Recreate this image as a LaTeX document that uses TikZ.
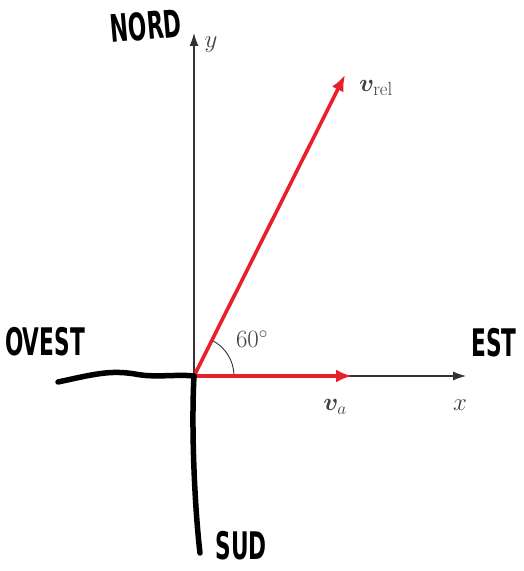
\documentclass[tikz,border=0pt]{standalone}
\usepackage{amsmath,amssymb,bm}
\usepackage{fontspec}
\newfontfamily\handfont{DejaVu Sans}
\usetikzlibrary{arrows.meta,calc}

\tikzset{
  axis/.style={->,draw=black!80,line width=1.1pt},
  vec/.style={draw=vecred,line width=3.6pt,-{Latex[length=16pt,width=13pt]}},
  marker/.style={draw=black,line width=5.5pt,line cap=round,line join=round},
  hand/.style={font=\handfont\bfseries\fontsize{38}{38}\selectfont,inner sep=0pt},
  lbl/.style={text=black!75,font=\fontsize{27}{27}\selectfont,inner sep=0pt}
}
\definecolor{vecred}{RGB}{232,32,42}

\begin{document}
\begin{tikzpicture}[>={Latex[length=13pt,width=9pt]},x=1pt,y=1pt]
  \useasboundingbox (0,0) rectangle (524,571);
  \coordinate (O) at (194,195);
  \coordinate (ytip) at (194,538);
  \coordinate (xtip) at (466,195);
  \coordinate (vatip) at (352,195);
  \coordinate (reltip) at (345,496);
  \coordinate (west) at (58,189);
  \coordinate (south) at (200,18);
  % axes
  \draw[axis] (O) -- (ytip);
  \draw[axis] (O) -- (xtip);
  \node[lbl] (ylab) at (211,526) {$y$};
  \node[lbl] (xlab) at (460,166) {$x$};
  % angle
  \draw[black!80,line width=0.9pt] ($(O)+(40,0)$) arc[start angle=0,end angle=63.4,radius=40];
  \node[lbl] (ang) at (252,232) {$60^\circ$};
  % vectors
  \draw[vec] (O) -- (vatip);
  \draw[vec] (O) -- (reltip);
  \node[lbl] (valab) at (335,164) {$\bm{v}_{a}$};
  \node[lbl] (rellab) at (376,483) {$\bm{v}_{\mathrm{rel}}$};
  % hand-drawn marks
  \draw[marker] (west) .. controls (95,197) and (110,201) .. (135,197)
    .. controls (155,193) and (175,197) .. (O);
  \draw[marker] (O) .. controls (191,140) and (195,60) .. (south);
  \node[hand,rotate=5] (nord) at (146,545) {\scalebox{0.57}[1]{NORD}};
  \node[hand] (ovest) at (45,229) {\scalebox{0.57}[1]{OVEST}};
  \node[hand] (est) at (494,228) {\scalebox{0.57}[1]{EST}};
  \node[hand] (sud) at (241,25) {\scalebox{0.57}[1]{SUD}};
\end{tikzpicture}
\end{document}
